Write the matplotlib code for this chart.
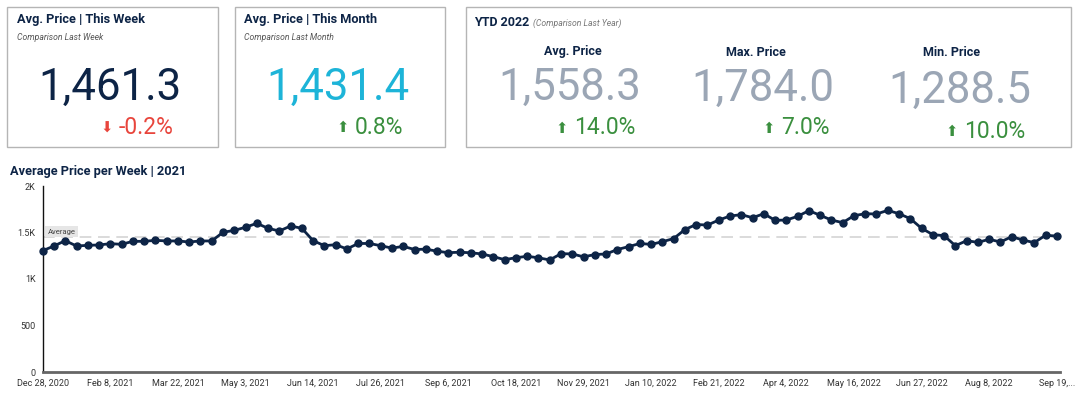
import pandas as pd
import matplotlib.pyplot as plt
from matplotlib.patches import Rectangle

plt.rcParams['font.family'] = ['Roboto', 'DejaVu Sans']

# weekly average prices, Dec 28 2020 .. Sep 19 2022
prices = [1304, 1355, 1412, 1355, 1362, 1366, 1380, 1373, 1405, 1405,
          1416, 1409, 1409, 1398, 1409, 1409, 1502, 1523, 1556, 1599,
          1545, 1516, 1570, 1545, 1412, 1358, 1369, 1323, 1382, 1382,
          1358, 1332, 1351, 1317, 1321, 1299, 1283, 1288, 1282, 1269,
          1240, 1208, 1229, 1244, 1228, 1205, 1272, 1270, 1238, 1263,
          1269, 1317, 1348, 1382, 1372, 1401, 1435, 1532, 1586, 1580,
          1634, 1677, 1692, 1659, 1702, 1631, 1634, 1674, 1735, 1685,
          1634, 1606, 1681, 1702, 1699, 1738, 1702, 1649, 1545, 1477,
          1466, 1358, 1412, 1394, 1427, 1398, 1455, 1419, 1391, 1470,
          1462]
weeks = pd.date_range('2020-12-28', periods=len(prices), freq='7D')
average_value = 1448

tick_labels = ['Dec 28, 2020', 'Feb 8, 2021', 'Mar 22, 2021', 'May 3, 2021',
               'Jun 14, 2021', 'Jul 26, 2021', 'Sep 6, 2021', 'Oct 18, 2021',
               'Nov 29, 2021', 'Jan 10, 2022', 'Feb 21, 2022', 'Apr 4, 2022',
               'May 16, 2022', 'Jun 27, 2022', 'Aug 8, 2022', 'Sep 19,...']
y_ticks = [0, 500, 1000, 1500, 2000]
y_tick_labels = ['0', '500', '1K', '1.5K', '2K']

# scorecards
week_value, week_change = '1,461.3', '-0.2%'
month_value, month_change = '1,431.4', '0.8%'
ytd_heads = ['Avg. Price', 'Max. Price', 'Min. Price']
ytd_values = ['1,558.3', '1,784.0', '1,288.5']
ytd_changes = ['14.0%', '7.0%', '10.0%']

NAVY = '#0d2446'
GREEN = '#3a8f3e'
RED = '#e8453c'
GREY_NUM = '#9ba6b5'
W, H = 1080, 394

fig = plt.figure(figsize=(W / 100, H / 100), dpi=100)


def px(x, y):
    return x / W, 1 - y / H


def card(x0, y0, x1, y1):
    fig.patches.append(Rectangle(px(x0, y1), (x1 - x0) / W, (y1 - y0) / H,
                                 transform=fig.transFigure, fill=False,
                                 edgecolor='#b5b5b5', linewidth=1.0))


def txt(x, y, s, **kw):
    fig.text(*px(x, y), s, **kw)


def change(x, y, s, up):
    color = GREEN if up else RED
    txt(x, y + 1, '\u2b06' if up else '\u2b07', color=color, fontsize=10.5,
        family='DejaVu Sans', ha='center', va='center')
    txt(x + 12, y, s, color=color, fontsize=16.5, ha='left', va='center')


# card 1
card(7, 7, 218, 147)
txt(17, 20, 'Avg. Price | This Week', color=NAVY, fontsize=9.2,
    fontweight='bold', va='center')
txt(17, 38, 'Comparison Last Week', color='#555555', fontsize=6.2,
    style='italic', va='center')
txt(109.5, 88, week_value, color=NAVY, fontsize=31.5, ha='center', va='center')
change(107, 127, week_change, False)

# card 2
card(235, 7, 445, 147)
txt(244, 20, 'Avg. Price | This Month', color=NAVY, fontsize=9.2,
    fontweight='bold', va='center')
txt(244, 38, 'Comparison Last Month', color='#555555', fontsize=6.2,
    style='italic', va='center')
txt(338, 88, month_value, color='#1db4d8', fontsize=31.5, ha='center', va='center')
change(343, 127, month_change, True)

# card 3
card(466, 7, 1071, 147)
txt(474, 22, 'YTD 2022', color=NAVY, fontsize=9, fontweight='bold', va='center')
txt(533, 23, '(Comparison Last Year)', color='#777777', fontsize=6.2,
    style='italic', va='center')
head_x = [573, 756, 952]
head_y = [51, 53, 53]
num_x = [570, 763, 960]
num_y = [88, 89, 91]
chg_x = [562, 769, 952]
chg_y = [128, 128, 131]
for i in range(3):
    txt(head_x[i], head_y[i], ytd_heads[i], color=NAVY,
        fontsize=9, fontweight='bold', ha='center', va='center')
    txt(num_x[i], num_y[i], ytd_values[i], color=GREY_NUM, fontsize=31.5,
        ha='center', va='center')
    change(chg_x[i], chg_y[i], ytd_changes[i], True)

# line chart
txt(10, 172, 'Average Price per Week | 2021', color=NAVY, fontsize=9.2,
    fontweight='bold', va='center')

ax = fig.add_axes([42.7 / W, (H - 372) / H, (1060 - 42.7) / W, 186 / H])
ax.plot(weeks, prices, color=NAVY, linewidth=2, marker='o', markersize=5,
        clip_on=False, zorder=3)
ax.axhline(average_value, color='#d4d4d4', linewidth=1.2, dashes=(7, 4), zorder=1)
ax.text(weeks[0] + pd.Timedelta(days=3), average_value + 60, 'Average',
        fontsize=5.5, color='#444444', va='center', ha='left',
        bbox=dict(boxstyle='square,pad=0.3', facecolor='#e6e6e6', edgecolor='none'))

ax.set_ylim(0, 2000)
ax.set_xlim(weeks[0], weeks[-1] + pd.Timedelta(days=2))
ax.set_yticks(y_ticks)
ax.set_yticklabels(y_tick_labels)
ax.set_xticks(weeks[::6])
ax.set_xticklabels(tick_labels)
ax.tick_params(length=0, labelsize=6.5, labelcolor='#333333', pad=5)
for s in ['top', 'right']:
    ax.spines[s].set_visible(False)
ax.spines['left'].set_color('#111111')
ax.spines['left'].set_linewidth(1)
ax.spines['bottom'].set_color('#666666')
ax.spines['bottom'].set_linewidth(2)

fig.savefig('out.png', dpi=100)
